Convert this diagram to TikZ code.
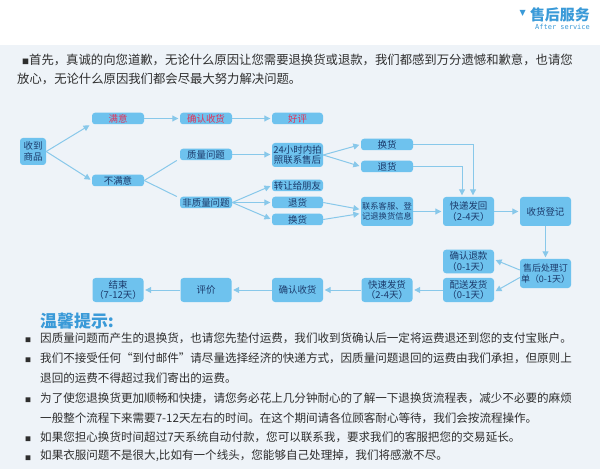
\documentclass[tikz,border=0pt]{standalone}
\usepackage{fontspec}
\setmainfont{Noto Sans CJK SC}
\newfontfamily\dejavu{DejaVu Sans}
\newfontfamily\monof{DejaVu Sans Mono}
\usetikzlibrary{arrows.meta}
\definecolor{bg}{HTML}{EEF3F8}
\definecolor{boxfill}{HTML}{6EC2EE}
\definecolor{arr}{HTML}{88C8EA}
\definecolor{boxtext}{HTML}{1B3A6B}
\definecolor{redtext}{HTML}{E0335A}
\definecolor{titleblue}{HTML}{3A9AD8}
\definecolor{bodytext}{HTML}{2E2E2E}
\begin{document}
\begin{tikzpicture}[x=1bp,y=-1bp,
  box/.style={fill=boxfill, rounded corners=3bp, inner sep=0pt, align=center, text=boxtext, font=\fontsize{9.5}{10.5}\selectfont},
  sbox/.style={box, minimum width=52bp, minimum height=11.5bp},
  tbox/.style={box, minimum width=51bp, minimum height=29bp},
  bbox/.style={box, minimum width=51bp, minimum height=24bp},
  arrow/.style={draw=arr, line width=1bp, -{Triangle[width=6bp,length=6bp]}, shorten >=1.5bp},
  link/.style={draw=arr, line width=1bp},
  body/.style={anchor=west, inner sep=0pt, text=bodytext, font=\fontsize{11.6}{11.6}\selectfont},
  bullet/.style={anchor=center, inner sep=0pt, text=bodytext, font=\fontsize{6}{6}\selectfont},
  toptext/.style={anchor=west, inner sep=0pt, text=bodytext, font=\fontsize{12.4}{12.4}\selectfont},
]
\fill[white] (0,0) rectangle (600,469);
\fill[bg] (0,45) rectangle (600,469);
\useasboundingbox (0,0) rectangle (600,469);

% header
\node[anchor=east, inner sep=0pt, text=titleblue, font=\fontsize{15}{15}\selectfont\bfseries] (hdr) at (590,15) {售后服务};
\node[anchor=east, inner sep=0pt, text=titleblue, font=\dejavu\fontsize{8}{8}\selectfont] (tri) at ([xshift=-4bp,yshift=2bp]hdr.west) {▼};
\node[anchor=east, inner sep=0pt, text=titleblue, font=\monof\fontsize{7}{7}\selectfont] (after) at (590,27) {After service};

% top paragraph
\node[toptext] (p1) at (22,60) {{\fontsize{7}{7}\selectfont ■}首先，真诚的向您道歉，无论什么原因让您需要退换货或退款，我们都感到万分遗憾和歉意，也请您};
\node[toptext] (p2) at (17,79) {放心，无论什么原因我们都会尽最大努力解决问题。};

% flow nodes
\node[box, minimum width=26bp, minimum height=27bp] (sd) at (33,151.5) {收到\\商品};
\node[sbox, text=redtext] (my) at (118,118.5) {满意};
\node[sbox, text=redtext] (qr1) at (206,118.5) {确认收货};
\node[sbox, text=redtext, minimum width=51bp] (hp) at (297.5,118.5) {好评};
\node[sbox] (bmy) at (118,180.5) {不满意};
\node[sbox] (zl) at (206,154.5) {质量问题};
\node[sbox] (fzl) at (206,202.5) {非质量问题};
\node[box, minimum width=51bp, minimum height=24bp] (h24) at (297.5,155) {24小时内拍\\照联系售后};
\node[sbox, minimum width=51bp] (zr) at (297.5,185.5) {转让给朋友};
\node[sbox, minimum width=51bp] (th2) at (297.5,202.5) {退货};
\node[sbox, minimum width=51bp] (hh2) at (297.5,219.5) {换货};
\node[sbox] (hh1) at (387,144.5) {换货};
\node[sbox] (th1) at (387,166.5) {退货};
\node[tbox, minimum width=52bp, font=\fontsize{8.3}{10}\selectfont] (lx) at (387,211.5) {联系客服、登\\记退换货信息};
\node[tbox] (kd) at (468.5,211.5) {快递发回\\（2-4天）};
\node[tbox] (sh) at (545.5,211.5) {收货登记};
\node[tbox, font=\fontsize{9}{10.5}\selectfont] (cl) at (545.5,273.5) {售后处理订\\单（0-1天）};
\node[box, minimum width=51bp, minimum height=23.5bp] (qt) at (468.5,261.5) {确认退款\\（0-1天）};
\node[bbox] (ps) at (468.5,290) {配送发货\\（0-1天）};
\node[bbox] (ks) at (387,290) {快速发货\\（2-4天）};
\node[bbox] (qr2) at (297.5,290) {确认收货};
\node[bbox] (pj) at (206,290) {评价};
\node[bbox] (js) at (118,290) {结束\\（7-12天）};

% connectors
\draw[arrow] (sd.east) -- ([xshift=-1bp]my.south west);
\draw[arrow] (sd.east) -- (bmy.west);
\draw[arrow] (my) -- (qr1);
\draw[arrow] (qr1) -- (hp);
\draw[link] (bmy.east) -- ([xshift=-3bp]zl.south west);
\draw[link] (bmy.east) -- ([xshift=-3bp]fzl.north west);
\draw[arrow] (zl.east) -- (zl.east -| h24.west);
\draw[arrow] (fzl.east) -- (zr.west);
\draw[arrow] (fzl.east) -- (th2.west);
\draw[arrow] (fzl.east) -- (hh2.west);
\draw[arrow] (h24.east) -- (hh1.west);
\draw[arrow] (h24.east) -- (th1.west);
\draw[arrow] (th2.east) -- ([yshift=2bp]lx.west);
\draw[arrow] (hh2.east) -- ([yshift=-2bp]lx.west);
\draw[arrow] (lx) -- (kd);
\draw[arrow] (hh1.east) -| ([xshift=4.5bp]kd.north);
\draw[arrow] (th1.east) -| ([xshift=-6.5bp]kd.north);
\draw[arrow] (kd) -- (sh);
\draw[arrow] (sh) -- (cl);
\draw[arrow] ([yshift=3.5bp]cl.west) -- ([yshift=2bp]qt.east);
\draw[arrow] ([yshift=-4bp]cl.west) -- ([yshift=-2bp]ps.east);
\draw[arrow] (ps) -- (ks);
\draw[arrow] (ks) -- (qr2);
\draw[arrow] (qr2) -- (pj);
\draw[arrow] (pj) -- (js);

% tips
\node[anchor=west, inner sep=0pt, text=titleblue, font=\fontsize{17}{17}\selectfont\bfseries] (tipt) at (40,321) {温馨提示:};
\node[bullet] (b1) at (28,340) {■};
\node[body] (t1) at (40,338) {因质量问题而产生的退换货，也请您先垫付运费，我们收到货确认后一定将运费退还到您的支付宝账户。};
\node[bullet] (b2) at (28,360) {■};
\node[body] (t2) at (40,358) {我们不接受任何“到付邮件”请尽量选择经济的快递方式，因质量问题退回的运费由我们承担，但原则上};
\node[body] (t3) at (40,378) {退回的运费不得超过我们寄出的运费。};
\node[bullet] (b4) at (28,400) {■};
\node[body] (t4) at (40,398) {为了使您退换货更加顺畅和快捷，请您务必花上几分钟耐心的了解一下退换货流程表，减少不必要的麻烦};
\node[body] (t5) at (40,418) {一般整个流程下来需要7-12天左右的时间。在这个期间请各位顾客耐心等待，我们会按流程操作。};
\node[bullet] (b6) at (28,439) {■};
\node[body] (t6) at (40,437) {如果您担心换货时间超过7天系统自动付款，您可以联系我，要求我们的客服把您的交易延长。};
\node[bullet] (b7) at (28,458) {■};
\node[body] (t7) at (40,456) {如果衣服问题不是很大,比如有一个线头，您能够自己处理掉，我们将感激不尽。};
\end{tikzpicture}
\end{document}
